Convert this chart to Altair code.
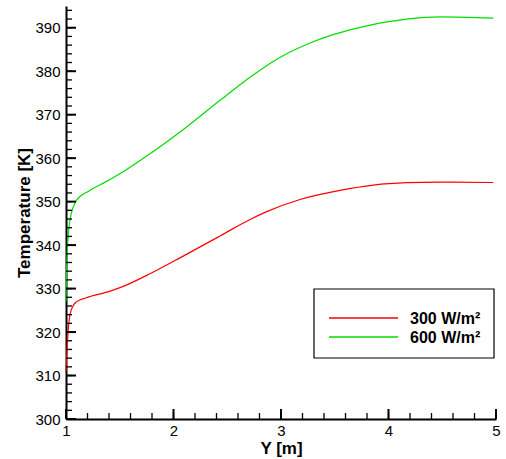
import altair as alt
import pandas as pd

# ---- data ----
series_names = ["300 W/m²", "600 W/m²"]
series_colors = ["#ff0000", "#00dd00"]

x_red = [1.0, 1.006, 1.037, 1.07, 1.1, 1.19, 1.41, 1.56, 1.781, 2.107, 2.433, 2.712,
         2.867, 3.177, 3.55, 3.86, 4.17, 4.48, 4.975]
t_red = [311.0, 314.3, 324.0, 326.2, 327.0, 327.9, 329.4, 330.8, 333.4, 337.7, 342.1,
         345.9, 347.7, 350.5, 352.6, 353.8, 354.35, 354.5, 354.4]

x_green = [1.0, 1.006, 1.037, 1.1, 1.217, 1.372, 1.558, 1.781, 2.107, 2.433, 2.712,
           2.898, 3.084, 3.27, 3.456, 3.642, 3.81, 4.0, 4.17, 4.48, 4.975]
t_green = [327.0, 335.0, 345.8, 350.4, 352.5, 354.6, 357.3, 361.0, 366.9, 373.3, 378.6,
           381.8, 384.4, 386.5, 388.2, 389.5, 390.5, 391.4, 392.0, 392.5, 392.2]

x_domain = [1, 5]
y_domain = [300, 395]
x_major = [1, 2, 3, 4, 5]
x_minor = [round(1 + 0.2 * i, 1) for i in range(21)]
y_major = list(range(300, 391, 10))
y_minor = list(range(300, 395, 2))

W, H = 430, 413

df = pd.concat([
    pd.DataFrame({"Y": x_red, "T": t_red, "series": series_names[0], "ord": range(len(x_red))}),
    pd.DataFrame({"Y": x_green, "T": t_green, "series": series_names[1], "ord": range(len(x_green))}),
])

xs = alt.Scale(domain=x_domain, nice=False, zero=False)
ys = alt.Scale(domain=y_domain, nice=False, zero=False)

lines = alt.Chart(df).mark_line(strokeWidth=1.2, interpolate="monotone").encode(
    x=alt.X("Y:Q", scale=xs, title="Y [m]",
            axis=alt.Axis(values=x_major, format="d", ticks=False, labelPadding=4,
                          labelFlush=False, titlePadding=2)),
    y=alt.Y("T:Q", scale=ys, title="Temperature [K]",
            axis=alt.Axis(values=y_major, format="d", ticks=False, labelPadding=6,
                          labelFlush=False, titlePadding=1)),
    color=alt.Color("series:N", scale=alt.Scale(domain=series_names, range=series_colors),
                    legend=None),
    order="ord:Q",
)

ymin = pd.DataFrame({"v": y_minor})
ymaj = pd.DataFrame({"v": y_major})
xmin = pd.DataFrame({"v": x_minor})
xmaj = pd.DataFrame({"v": x_major})

y_minor_ticks = alt.Chart(ymin).mark_rule(color="black", strokeWidth=1.3).encode(
    y=alt.Y("v:Q", scale=ys), x=alt.value(0), x2=alt.value(6))
y_major_ticks = alt.Chart(ymaj).mark_rule(color="black", strokeWidth=2).encode(
    y=alt.Y("v:Q", scale=ys), x=alt.value(0), x2=alt.value(10))
x_minor_ticks = alt.Chart(xmin).mark_rule(color="black", strokeWidth=1.3).encode(
    x=alt.X("v:Q", scale=xs), y=alt.value(H), y2=alt.value(H - 6))
x_major_ticks = alt.Chart(xmaj).mark_rule(color="black", strokeWidth=2).encode(
    x=alt.X("v:Q", scale=xs), y=alt.value(H), y2=alt.value(H - 10))

# ---- manual legend box ----
leg_df = pd.DataFrame({"series": series_names, "color": series_colors})
box = alt.Chart(leg_df.head(1)).mark_rect(fill="white", stroke="black", strokeWidth=1.2).encode(
    x=alt.value(248), x2=alt.value(428), y=alt.value(283), y2=alt.value(352))

legend_layers = [box]
for i, (name, col) in enumerate(zip(series_names, series_colors)):
    row = leg_df.iloc[[i]]
    ypix = 312 + 19 * i
    legend_layers.append(
        alt.Chart(row).mark_rule(color=col, strokeWidth=1.3).encode(
            x=alt.value(263), x2=alt.value(332), y=alt.value(ypix)))
    legend_layers.append(
        alt.Chart(row).mark_text(align="left", baseline="middle", font="Liberation Sans",
                                 fontWeight="bold", fontSize=16, color="black").encode(
            text="series:N", x=alt.value(344), y=alt.value(ypix + 1)))

chart = alt.layer(
    lines, y_minor_ticks, y_major_ticks, x_minor_ticks, x_major_ticks, *legend_layers
).properties(
    width=W, height=H,
    autosize=alt.AutoSizeParams(type="none"),
    padding={"left": 66, "top": 6, "right": 10, "bottom": 40},
).configure_view(stroke=None).configure_axis(
    grid=False,
    domainColor="black",
    domainWidth=2,
    labelFont="Liberation Sans",
    labelFontSize=15,
    labelColor="black",
    titleFont="Liberation Sans",
    titleFontSize=17,
    titleFontWeight="bold",
    titleColor="black",
)

chart.save("out.html", embed_options={"renderer": "svg", "actions": False})
